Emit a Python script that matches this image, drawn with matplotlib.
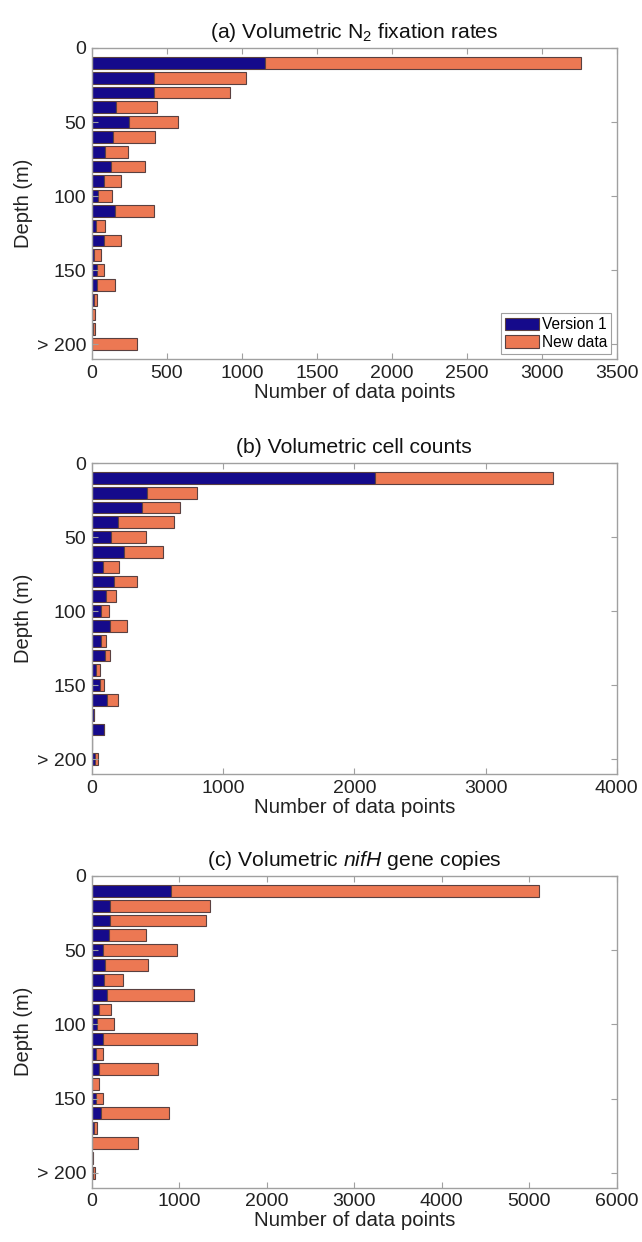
import matplotlib
matplotlib.use("Agg")
import matplotlib.pyplot as plt
from matplotlib.patches import Patch
import numpy as np

plt.rcParams['font.family'] = ['Liberation Sans', 'DejaVu Sans']
plt.rcParams['mathtext.fontset'] = 'custom'
plt.rcParams['mathtext.rm'] = 'Liberation Sans'
plt.rcParams['mathtext.it'] = 'Liberation Sans:italic'

# Depth bins (m); the last bin (200) is shown as "> 200"
depths = [10, 20, 30, 40, 50, 60, 70, 80, 90, 100,
          110, 120, 130, 140, 150, 160, 170, 180, 190, 200]
ytick_vals = [0, 50, 100, 150, 200]
ytick_labels = ['0', '50', '100', '150', '> 200']

# (a) Volumetric N2 fixation rates: Version 1 counts and total counts
n2fix_v1 = [1155, 415, 415, 161, 248, 138, 87, 125, 83, 42,
            156, 29, 83, 13, 36, 33, 13, 2, 10, 2]
n2fix_total = [3260, 1026, 921, 435, 573, 419, 241, 352, 196, 136,
               415, 89, 196, 58, 78, 152, 31, 22, 18, 299]

# (b) Volumetric cell counts
cells_v1 = [2161, 416, 381, 195, 145, 241, 86, 165, 107, 71,
            135, 71, 96, 28, 63, 117, 13, 89, 0, 23]
cells_total = [3513, 802, 673, 622, 409, 543, 206, 345, 185, 132,
               269, 109, 140, 58, 89, 200, 18, 89, 0, 43]

# (c) Volumetric nifH gene copies
nifh_v1 = [909, 210, 210, 199, 130, 149, 137, 176, 80, 61,
           130, 42, 76, 4, 46, 103, 23, 4, 0, 12]
nifh_total = [5110, 1355, 1298, 622, 977, 641, 359, 1168, 221, 256,
              1206, 130, 760, 76, 130, 878, 53, 523, 11, 34]

titles = [r'(a) Volumetric N$_2$ fixation rates',
          '(b) Volumetric cell counts',
          r'(c) Volumetric $\it{nifH}$ gene copies']
xlims = [3500, 4000, 6000]
xsteps = [500, 1000, 1000]
series = [(n2fix_v1, n2fix_total), (cells_v1, cells_total), (nifh_v1, nifh_total)]

c_v1 = '#150a8b'
c_new = '#ec7853'
edge = '#5a4040'
spine_c = '#a0a0a0'

W, H = 642, 1242
fig = plt.figure(figsize=(W / 100, H / 100), dpi=100)
panels_px = [(48, 359), (463, 774), (876, 1187.5)]
left_px, right_px = 92, 616.7

for i, ((top, bot), title, xl, xs, (v1, tot)) in enumerate(
        zip(panels_px, titles, xlims, xsteps, series)):
    ax = fig.add_axes([left_px / W, 1 - bot / H, (right_px - left_px) / W, (bot - top) / H])
    v1 = np.array(v1, float)
    tot = np.array(tot, float)
    new = tot - v1
    ax.barh(depths, v1, height=8, color=c_v1, edgecolor=edge, linewidth=0.8, label='Version 1')
    ax.barh(depths, new, left=v1, height=8, color=c_new, edgecolor=edge, linewidth=0.8, label='New data')
    ax.set_ylim(210, 0)
    ax.set_xlim(0, xl)
    ax.set_xticks(np.arange(0, xl + 1, xs))
    ax.set_yticks(ytick_vals)
    ax.set_yticklabels(ytick_labels)
    ax.tick_params(direction='in', length=4, width=0.8, color=spine_c,
                   top=True, right=True, labelsize=14, pad=4, labelcolor='#222222')
    for s in ax.spines.values():
        s.set_color(spine_c)
        s.set_linewidth(1.0)
    ax.set_title(title, fontsize=15.2, pad=7, color='#111111')
    ax.set_xlabel('Number of data points', fontsize=14.8, labelpad=1, color='#222222')
    ax.set_ylabel('Depth (m)', fontsize=14.5, labelpad=3, color='#222222')
    if i == 0:
        handles = [Patch(facecolor=c_v1, edgecolor=edge, linewidth=0.8, label='Version 1'),
                   Patch(facecolor=c_new, edgecolor=edge, linewidth=0.8, label='New data')]
        leg = ax.legend(handles=handles, loc='lower right', fontsize=11.2, fancybox=False,
                        framealpha=1, edgecolor=spine_c, borderpad=0.25, handlelength=2.2,
                        handleheight=0.9, handletextpad=0.2, labelspacing=0.15,
                        borderaxespad=0.35)
        leg.get_frame().set_linewidth(0.8)

fig.savefig('out.png', dpi=100)
